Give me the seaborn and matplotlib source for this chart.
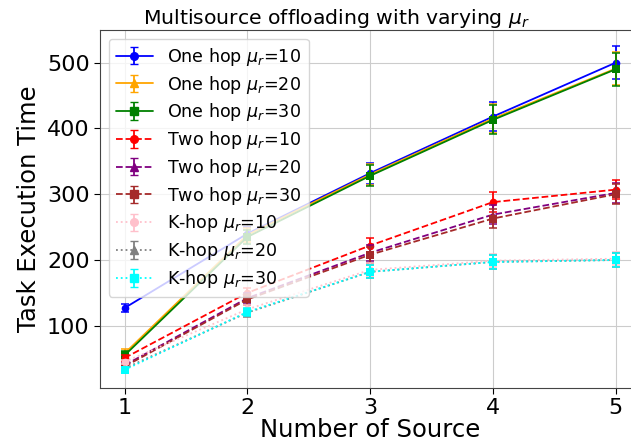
import matplotlib
matplotlib.use("Agg")
import matplotlib.pyplot as plt
import seaborn as sns
import numpy as np
import pandas as pd

sns.set_style("ticks", rc={"text.color": "black", "axes.labelcolor": "black",
                           "xtick.color": "black", "ytick.color": "black"})
plt.rcParams["font.family"] = ["DejaVu Sans"]

sources = [1, 2, 3, 4, 5]

one_hop_10 = [127, 240, 332, 418, 500]
one_hop_20 = [58, 238, 330, 415, 491]
one_hop_30 = [55, 235, 328, 413, 490]
two_hop_10 = [51, 150, 222, 288, 307]
two_hop_20 = [40, 142, 211, 269, 302]
two_hop_30 = [38, 140, 208, 263, 300]
k_hop_10 = [45, 125, 185, 199, 202]
k_hop_20 = [35, 120, 182, 197, 200]
k_hop_30 = [33, 121, 182, 197, 200]

one_hop_err = [6, 10, 16, 22, 25]
two_hop_err = [4, 8, 12, 15, 15]
k_hop_err = [3, 6, 10, 10, 10]

series = [
    ("One hop $\\mu_r$=10", one_hop_10, one_hop_err, "blue", "o", "-"),
    ("One hop $\\mu_r$=20", one_hop_20, one_hop_err, "orange", "^", "-"),
    ("One hop $\\mu_r$=30", one_hop_30, one_hop_err, "green", "s", "-"),
    ("Two hop $\\mu_r$=10", two_hop_10, two_hop_err, "red", "o", "--"),
    ("Two hop $\\mu_r$=20", two_hop_20, two_hop_err, "purple", "^", "--"),
    ("Two hop $\\mu_r$=30", two_hop_30, two_hop_err, "brown", "s", "--"),
    ("K-hop $\\mu_r$=10", k_hop_10, k_hop_err, "pink", "o", ":"),
    ("K-hop $\\mu_r$=20", k_hop_20, k_hop_err, "gray", "^", ":"),
    ("K-hop $\\mu_r$=30", k_hop_30, k_hop_err, "cyan", "s", ":"),
]

fig = plt.figure(figsize=(6.31, 4.41), dpi=100)
ax = fig.add_axes([0.1585, 0.12, 0.856, 0.812])

handles = []
for label, vals, err, color, marker, ls in series:
    df = pd.DataFrame({"src": sources, "time": vals})
    sns.lineplot(data=df, x="src", y="time", ax=ax, color=color, marker=marker,
                 linestyle=ls, linewidth=1.3, markersize=5.5, markeredgewidth=0,
                 legend=False)
    ax.errorbar(sources, vals, yerr=err, fmt="none", ecolor=color,
                elinewidth=1.3, capsize=3, capthick=1.1)
    h = ax.errorbar([np.nan], [np.nan], yerr=[np.nan], color=color, marker=marker,
                    linestyle=ls, linewidth=1.3, markersize=5.5, capsize=3,
                    label=label)
    handles.append(h)

ax.set_xticks(sources)
ax.grid(True, color="#cccccc", linewidth=0.8)
ax.tick_params(axis="both", labelsize=16, direction="out", length=4)
for s in ax.spines.values():
    s.set_color("#444444")
ax.set_xlabel("Number of Source", fontsize=17.5, labelpad=0)
ax.set_ylabel("Task Execution Time", fontsize=17.5, labelpad=4)
ax.set_title("Multisource offloading with varying $\\mu_r$", fontsize=14.7,
             pad=3, loc="left", x=0.0796)
ax.legend(handles=handles, loc="upper left", fontsize=12.6, framealpha=0.8,
          handlelength=2.1, handletextpad=0.85, labelspacing=0.33)

fig.savefig("out.png", dpi=100)
